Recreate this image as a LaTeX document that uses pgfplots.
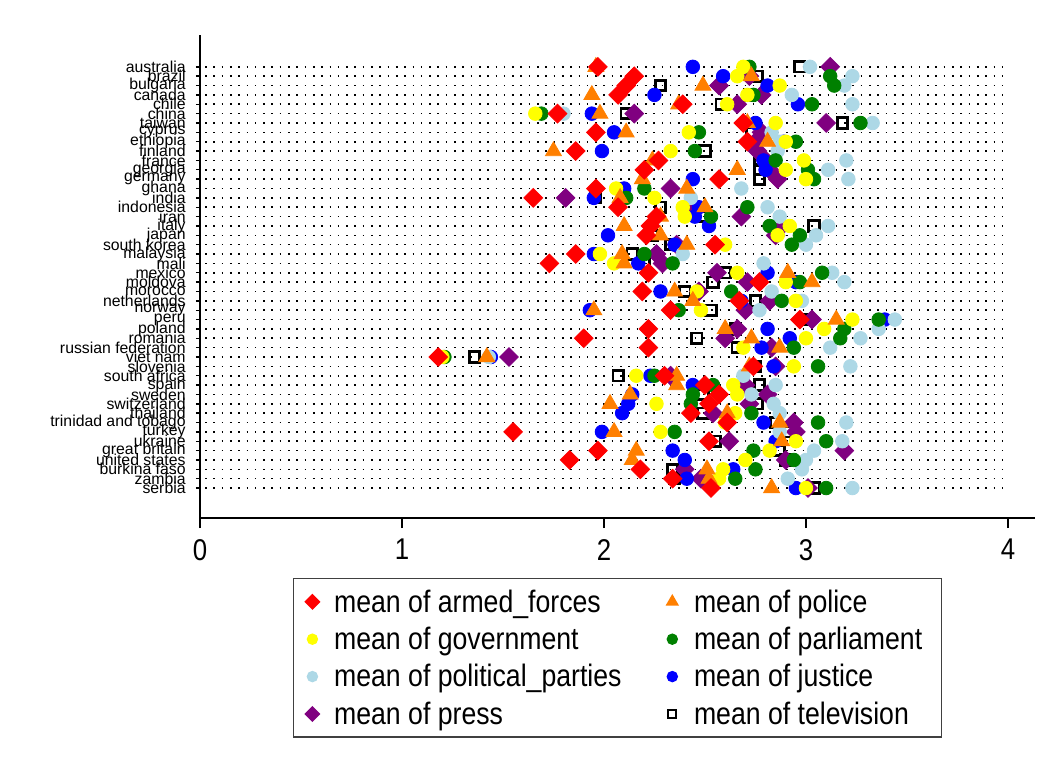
\documentclass[border=0pt]{standalone}
\usepackage{fontspec}
\setmainfont{Liberation Sans}
\newfontfamily\condfont[FakeStretch=0.86]{Liberation Sans}
\usepackage{graphicx}
\usepackage{pgfplots}
\usepackage{pgfplotstable}
\pgfplotsset{compat=1.18}
\definecolor{cA}{RGB}{255,0,0}
\definecolor{cP}{RGB}{255,127,0}
\definecolor{cG}{RGB}{255,255,0}
\definecolor{cPa}{RGB}{0,128,0}
\definecolor{cPp}{RGB}{173,216,230}
\definecolor{cJ}{RGB}{0,0,255}
\definecolor{cPr}{RGB}{128,0,128}

% idx: 0 = australia (top) ... -45 = serbia (bottom)
\pgfplotstableread{
idx a p g pa pp j pr tv
0 1.97 1.96 2.69 2.72 3.02 2.44 3.12 2.97
-1 2.15 2.73 2.66 3.12 3.23 2.59 2.72 2.76
-2 2.11 2.49 2.87 3.14 3.19 2.81 2.57 2.28
-3 2.07 1.94 2.71 2.74 2.93 2.25 2.78 2.72
-4 2.39 2.37 2.61 3.03 3.23 2.96 2.66 2.58
-5 1.77 1.98 1.66 1.69 1.80 1.94 2.15 2.11
-6 2.69 2.71 2.85 3.27 3.33 2.75 3.10 3.18
-7 1.96 2.11 2.42 2.47 2.83 2.05 2.78 2.73
-8 2.71 2.81 2.90 2.95 2.87 2.89 2.75 2.88
-9 1.86 1.75 2.33 2.45 2.86 1.99 2.76 2.50
-10 2.27 2.24 2.99 2.85 3.20 2.79 2.80 2.77
-11 2.20 2.66 2.90 3.01 3.11 2.80 2.82 2.77
-12 2.57 2.19 3.00 3.04 3.21 2.44 2.86 2.77
-13 1.96 2.41 2.06 2.20 2.68 2.10 2.33 2.08
-14 1.65 2.08 2.25 2.11 2.43 1.95 1.81 1.96
-15 2.07 2.50 2.39 2.71 2.81 2.47 2.45 2.28
-16 2.26 2.28 2.40 2.53 2.87 2.45 2.68 2.48
-17 2.23 2.10 2.92 2.82 3.11 2.52 2.88 3.04
-18 2.21 2.28 2.86 2.97 3.05 2.02 2.85 2.24
-19 2.55 2.41 2.60 2.93 3.00 2.35 2.36 2.33
-20 1.86 2.09 1.98 2.20 2.39 1.95 2.26 2.14
-21 1.73 2.10 2.05 2.34 2.79 2.17 2.29 2.20
-22 2.22 2.91 2.66 3.08 3.13 2.81 2.56 2.60
-23 2.77 3.03 2.90 2.97 3.19 2.95 2.71 2.54
-24 2.19 2.35 2.46 2.63 2.83 2.28 2.47 2.40
-25 2.67 2.44 2.95 2.88 2.98 2.68 2.82 2.75
-26 2.33 1.95 2.48 2.37 2.77 1.93 2.70 2.53
-27 2.97 3.15 3.23 3.36 3.44 3.39 3.03 3.00
-28 2.22 2.60 3.09 3.19 3.36 2.81 2.66 2.65
-29 1.90 2.73 3.00 3.17 3.27 2.92 2.60 2.46
-30 2.22 2.87 2.69 2.94 3.12 2.78 2.83 2.66
-31 1.18 1.42 1.20 1.21 1.43 1.44 1.53 1.36
-32 2.74 2.72 2.94 3.06 3.22 2.84 2.85 2.75
-33 2.30 2.36 2.16 2.25 2.69 2.23 2.33 2.07
-34 2.50 2.36 2.64 2.54 2.85 2.44 2.70 2.77
-35 2.57 2.13 2.66 2.44 2.73 2.14 2.81 2.49
-36 2.52 2.03 2.26 2.43 2.84 2.12 2.72 2.76
-37 2.43 2.61 2.65 2.73 2.87 2.09 2.54 2.49
-38 2.61 2.87 2.60 3.06 3.20 2.79 2.94 2.85
-39 1.55 2.05 2.28 2.35 2.87 1.99 2.95 2.90
-40 2.52 2.88 2.95 3.10 3.18 2.85 2.62 2.55
-41 1.97 2.16 2.82 2.74 3.04 2.34 3.19 2.87
-42 1.83 2.14 2.70 2.94 3.00 2.40 2.90 2.90
-43 2.18 2.51 2.59 2.75 2.98 2.64 2.40 2.34
-44 2.34 2.52 2.57 2.65 2.91 2.41 2.48 2.35
-45 2.53 2.83 3.00 3.10 3.23 2.95 3.01 3.04
}\data

\begin{document}
\begin{tikzpicture}
\path[use as bounding box] (-100pt,-127pt) rectangle (425.5pt,259pt);
\begin{axis}[
  at={(0pt,0pt)}, anchor=south west,
  scale only axis, width=417.5pt, height=241.5pt,
  xmin=0, xmax=4.134, ymin=-48.2, ymax=3.4,
  axis lines=left, axis line style={-, line width=0.7pt},
  tick align=outside, tick style={black, line width=0.7pt},
  major tick length=4pt,
  xtick={0,1,2,3,4},
  xticklabels={0,1,2,3,4},
  xtick style={/pgfplots/major tick length=5pt},
  ytick={-45,-44,...,0},
  yticklabels={serbia,zambia,burkina faso,united states,great britain,ukraine,turkey,trinidad and tobago,thailand,switzerland,sweden,spain,south africa,slovenia,viet nam,russian federation,romania,poland,peru,norway,netherlands,morocco,moldova,mexico,mali,malaysia,south korea,japan,italy,iran,indonesia,india,ghana,germany,georgia,france,finland,ethiopia,cyprus,taiwan,china,chile,canada,bulgaria,brazil,australia},
  ytick style={/pgfplots/major tick length=2pt},
  xticklabel style={font=\condfont\fontsize{15}{15}\selectfont, yshift=-3pt},
  yticklabel style={font=\fontsize{7.9}{7.9}\selectfont, inner sep=0pt, xshift=-3pt},
  clip=false,
  legend columns=2,
  legend cell align=left,
  legend image code/.code={\path (-5pt,0pt) (5pt,0pt); \draw[#1] plot coordinates {(0pt,0pt)};},
  legend style={
    at={(0.1114,-0.124)}, anchor=north west,
    draw=black!75, line width=0.7pt,
    font=\condfont\fontsize{15.5}{15.5}\selectfont,
    inner xsep=4pt, inner ysep=2.25pt,
    nodes={inner xsep=5.5pt, inner ysep=2pt, text height=12.5pt, text depth=2.2pt},
    /tikz/every even column/.append style={column sep=14.5pt},
  },
]
% dotted row guide lines (from x = 0 to x = 4, as in the reference)
\pgfplotsinvokeforeach{0,...,45}{
  \draw[black, line width=0.8pt, dash pattern=on 0.8pt off 3.35pt]
    (axis cs:0.025,-#1) -- (axis cs:4.0,-#1);
}
% legend entries (Stata order)
\addlegendimage{only marks, mark=square*, mark size=2.5pt, mark options={rotate=45, draw=cA, fill=cA}}
\addlegendentry{mean of armed\_forces}
\addlegendimage{only marks, mark=triangle*, mark size=3.2pt, mark options={draw=cP, fill=cP}}
\addlegendentry{mean of police}
\addlegendimage{only marks, mark=*, mark size=2.5pt, mark options={draw=cG, fill=cG}}
\addlegendentry{mean of government}
\addlegendimage{only marks, mark=*, mark size=2.5pt, mark options={draw=cPa, fill=cPa}}
\addlegendentry{mean of parliament}
\addlegendimage{only marks, mark=*, mark size=2.5pt, mark options={draw=cPp, fill=cPp}}
\addlegendentry{mean of political\_parties}
\addlegendimage{only marks, mark=*, mark size=2.5pt, mark options={draw=cJ, fill=cJ}}
\addlegendentry{mean of justice}
\addlegendimage{only marks, mark=square*, mark size=2.5pt, mark options={rotate=45, draw=cPr, fill=cPr}}
\addlegendentry{mean of press}
\addlegendimage{only marks, mark=square, mark size=2pt, mark options={draw=black, line width=1.1pt}}
\addlegendentry{mean of television}

% plotted in reverse order so that armed forces lie on top
\addplot[forget plot, only marks, mark=square, mark size=2.6pt, mark options={draw=black, line width=1.4pt}] table[x=tv, y=idx] {\data};
\addplot[forget plot, only marks, mark=square*, mark size=3.3pt, mark options={rotate=45, draw=cPr, fill=cPr}] table[x=pr, y=idx] {\data};
\addplot[forget plot, only marks, mark=*, mark size=3.4pt, mark options={draw=cJ, fill=cJ}] table[x=j, y=idx] {\data};
\addplot[forget plot, only marks, mark=*, mark size=3.4pt, mark options={draw=cPp, fill=cPp}] table[x=pp, y=idx] {\data};
\addplot[forget plot, only marks, mark=*, mark size=3.4pt, mark options={draw=cPa, fill=cPa}] table[x=pa, y=idx] {\data};
\addplot[forget plot, only marks, mark=*, mark size=3.4pt, mark options={draw=cG, fill=cG}] table[x=g, y=idx] {\data};
\addplot[forget plot, only marks, mark=triangle*, mark size=4.6pt, mark options={draw=cP, fill=cP}] table[x=p, y=idx] {\data};
\addplot[forget plot, only marks, mark=square*, mark size=3.3pt, mark options={rotate=45, draw=cA, fill=cA}] table[x=a, y=idx] {\data};
\end{axis}
\end{tikzpicture}
\end{document}
